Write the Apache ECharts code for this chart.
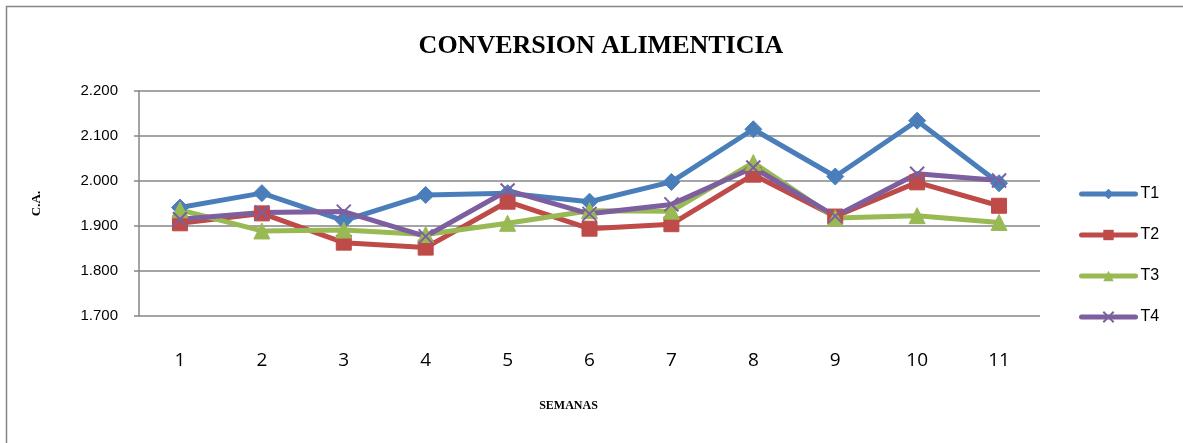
<!DOCTYPE html>
<html><head><meta charset="utf-8">
<script src="https://cdn.jsdelivr.net/npm/echarts@6/dist/echarts.min.js"></script>
<style>html,body{margin:0;padding:0;background:#fff}#c{width:1183px;height:443px}</style>
</head><body><div id="c"></div>
<script>
const categories = ['1','2','3','4','5','6','7','8','9','10','11'];
const yTicks = [1.7, 1.8, 1.9, 2.0, 2.1, 2.2];
const T1 = [1.941, 1.973, 1.912, 1.969, 1.973, 1.954, 1.998, 2.115, 2.010, 2.134, 1.995];
const T2 = [1.906, 1.928, 1.863, 1.852, 1.954, 1.894, 1.904, 2.014, 1.921, 1.997, 1.945];
const T3 = [1.936, 1.889, 1.891, 1.881, 1.906, 1.934, 1.933, 2.041, 1.918, 1.923, 1.908];
const T4 = [1.915, 1.930, 1.932, 1.877, 1.979, 1.927, 1.948, 2.030, 1.922, 2.016, 2.001];

const chart = echarts.init(document.getElementById('c'), null, {renderer:'canvas'});
function ser(name, data, color, symbol, size){
  return {name, type:'line', data, symbol, symbolSize:size, showSymbol:true,
    lineStyle:{color, width:5}, itemStyle:{color, borderColor: color}, z: 3};
}
const xSym = 'path://M0,0L2,2M2,0L0,2';
chart.setOption({
  animation:false,
  title:{text:'CONVERSION ALIMENTICIA', left:596, top:28, textAlign:'center',
    textStyle:{fontFamily:'Liberation Serif', fontWeight:'bold', fontSize:26, color:'#000'}},
  graphic:[{type:'rect', shape:{x:6.5,y:6.5,width:1200,height:460}, style:{fill:null, stroke:'#868686', lineWidth:1.5}, silent:true}],
  legend:{orient:'vertical', left:1079, top:186, padding:0, itemWidth:54, itemHeight:13, itemGap:25,
    lineStyle:{width:5, cap:'round'},
    textStyle:{fontFamily:'Liberation Sans', fontSize:16, color:'#000', padding:[0,0,0,0]},
    data:['T1','T2','T3','T4']},
  grid:{left:139, right:143, top:91, bottom:127, containLabel:false},
  xAxis:{type:'category', data:categories, boundaryGap:true,
    name:'SEMANAS', nameLocation:'middle', nameGap:84,
    nameTextStyle:{fontFamily:'Liberation Serif', fontWeight:'bold', fontSize:12, color:'#000', padding:[0,42,0,0]},
    axisLine:{show:false}, axisTick:{show:false},
    axisLabel:{fontFamily:'Open Sans', fontSize:19, color:'#000', margin:35}},
  yAxis:{type:'value', min:yTicks[0], max:yTicks[yTicks.length-1], interval:0.1,
    name:'C.A.', nameLocation:'middle', nameGap:96, nameRotate:90,
    nameTextStyle:{fontFamily:'Liberation Serif', fontWeight:'bold', fontSize:13, color:'#000'},
    axisLine:{show:true, lineStyle:{color:'#868686', width:1.5}},
    axisTick:{show:true, length:5, lineStyle:{color:'#868686', width:1.5}},
    splitLine:{lineStyle:{color:'#868686', width:1.5}},
    axisLabel:{fontFamily:'Liberation Sans', fontSize:15, color:'#000', margin:21,
      formatter:v=>v.toFixed(3)}},
  series:[
    ser('T1', T1, '#4a7ebb', 'diamond', 17),
    ser('T2', T2, '#be4b48', 'rect', 15),
    ser('T3', T3, '#98b954', 'triangle', 16),
    Object.assign(ser('T4', T4, '#7d5fa0', xSym, 14), {itemStyle:{color:'#7d5fa0', borderColor:'#7d5fa0', borderWidth:2}})
  ]
});
</script></body></html>
